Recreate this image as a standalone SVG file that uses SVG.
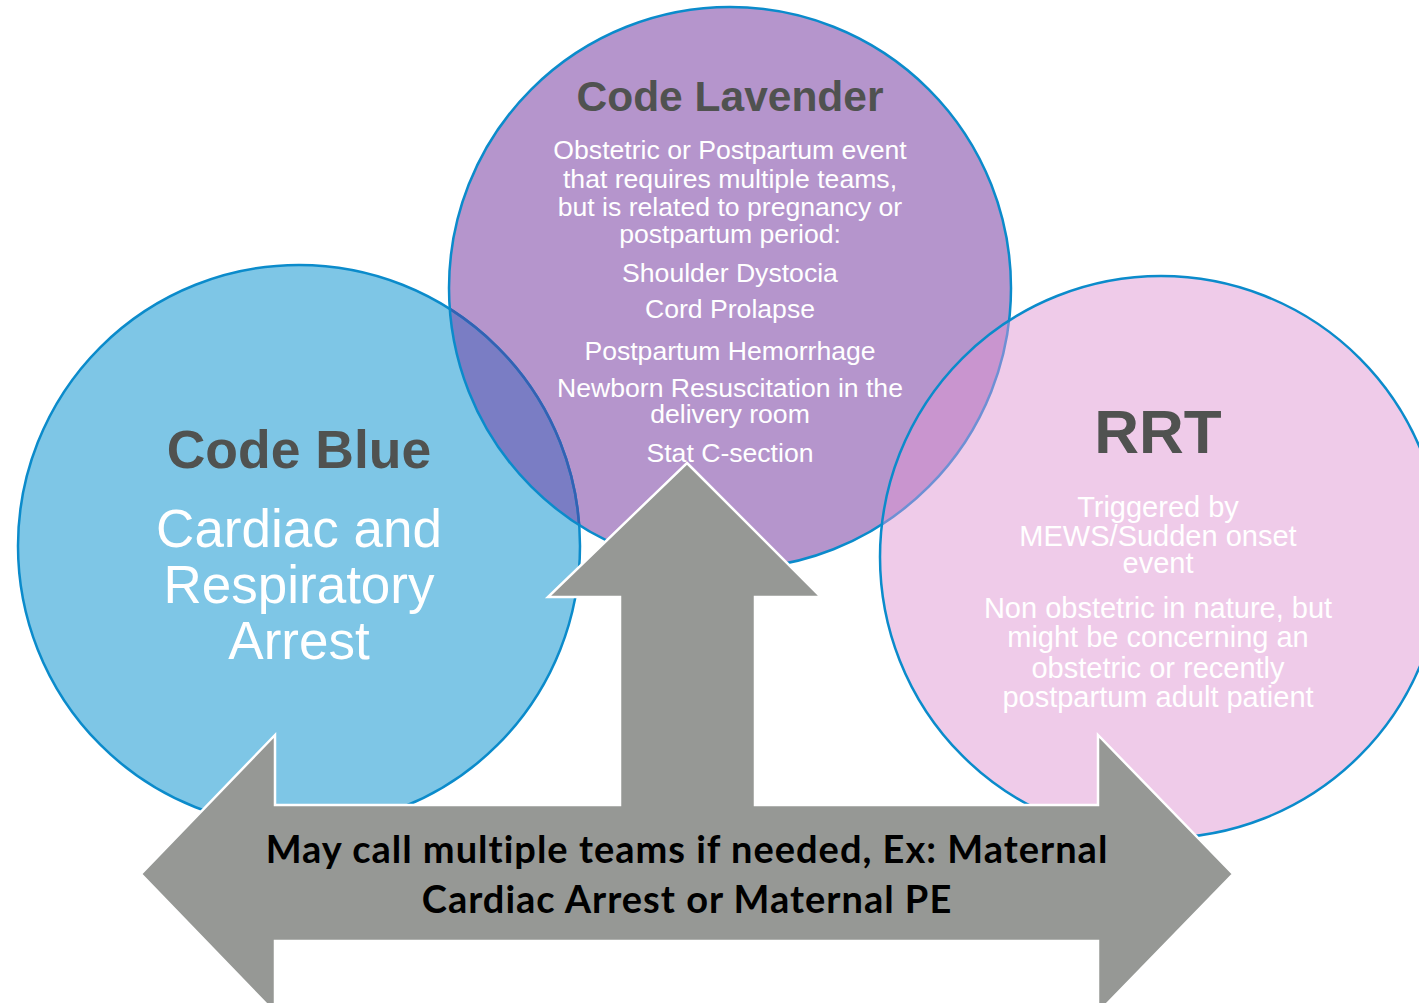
<svg xmlns="http://www.w3.org/2000/svg" width="1419" height="1003" viewBox="0 0 1419 1003">
<defs>
<clipPath id="clipBlue"><circle cx="299" cy="546" r="281"/></clipPath>
<clipPath id="clipLav"><circle cx="730" cy="288" r="281"/></clipPath>
<clipPath id="clipRRT"><circle cx="1161" cy="557" r="281"/></clipPath>
<style>
.edge{fill:none;stroke:#0B8BCB;stroke-width:2.5}
.title{font-family:"Liberation Sans",Arial,sans-serif;font-weight:bold;fill:#505250;text-anchor:middle}
.body{font-family:"Liberation Sans",Arial,sans-serif;fill:#FFFFFF;text-anchor:middle}
.arrowtxt{font-family:Lato,"Open Sans",sans-serif;font-weight:bold;fill:#000000;text-anchor:middle;letter-spacing:1px}
</style>
</defs>
<rect width="1419" height="1003" fill="#FFFFFF"/>
<g id="node-code-blue">
<circle cx="299" cy="546" r="281" fill="#7EC6E6"/>
</g>
<g id="node-code-lavender">
<circle cx="730" cy="288" r="281" fill="#B595CC"/>
<circle cx="730" cy="288" r="281" fill="#7A7DC4" clip-path="url(#clipBlue)"/>
<circle cx="299" cy="546" r="281" fill="none" stroke="#0B8BCB" stroke-width="2.5"/>
<circle cx="299" cy="546" r="281" fill="none" stroke="#3461B3" stroke-width="2.5" clip-path="url(#clipLav)"/>
<circle cx="730" cy="288" r="281" class="edge"/>
</g>
<g id="node-rrt">
<circle cx="1161" cy="557" r="281" fill="#EFCBE9"/>
<circle cx="1161" cy="557" r="281" fill="#C995CF" clip-path="url(#clipLav)"/>
<circle cx="730" cy="288" r="281" fill="none" stroke="#6E90D4" stroke-width="2.5" clip-path="url(#clipRRT)"/>
<circle cx="1161" cy="557" r="281" class="edge"/>
</g>
<g id="connectors">
<path d="M687,463 L821,597 L755,597 L755,805 L1098,805 L1098,735 L1233,874 L1098,1013 L1098,941 L275,941 L275,1013 L141,874 L275,735 L275,805 L620,805 L620,597 L548,597 Z" fill="#969895" stroke="#FFFFFF" stroke-width="2.5" stroke-linejoin="miter"/>
</g>
<g id="text-code-blue">
<text class="title" x="299" y="468" font-size="53.5">Code Blue</text>
<text class="body" x="299" y="547" font-size="53">Cardiac and</text>
<text class="body" x="299" y="603" font-size="53">Respiratory</text>
<text class="body" x="299" y="659" font-size="53">Arrest</text>
</g>
<g id="text-code-lavender">
<text class="title" x="730" y="111" font-size="42.5">Code Lavender</text>
<text class="body" x="730" y="159" font-size="26.6">Obstetric or Postpartum event</text>
<text class="body" x="730" y="188" font-size="26.6">that requires multiple teams,</text>
<text class="body" x="730" y="216" font-size="26.6">but is related to pregnancy or</text>
<text class="body" x="730" y="243" font-size="26.6">postpartum period:</text>
<text class="body" x="730" y="282" font-size="26.6">Shoulder Dystocia</text>
<text class="body" x="730" y="318" font-size="26.6">Cord Prolapse</text>
<text class="body" x="730" y="360" font-size="26.6">Postpartum Hemorrhage</text>
<text class="body" x="730" y="397" font-size="26.6">Newborn Resuscitation in the</text>
<text class="body" x="730" y="423" font-size="26.6">delivery room</text>
<text class="body" x="730" y="462" font-size="26.6">Stat C-section</text>
</g>
<g id="text-rrt">
<text class="title" x="1158" y="453" font-size="62">RRT</text>
<text class="body" x="1158" y="517" font-size="29">Triggered by</text>
<text class="body" x="1158" y="546" font-size="29">MEWS/Sudden onset</text>
<text class="body" x="1158" y="573" font-size="29">event</text>
<text class="body" x="1158" y="618" font-size="29">Non obstetric in nature, but</text>
<text class="body" x="1158" y="647" font-size="29">might be concerning an</text>
<text class="body" x="1158" y="678" font-size="29">obstetric or recently</text>
<text class="body" x="1158" y="707" font-size="29">postpartum adult patient</text>
</g>
<g id="text-arrow">
<text class="arrowtxt" x="687" y="863" font-size="38">May call multiple teams if needed, Ex: Maternal</text>
<text class="arrowtxt" x="687" y="913" font-size="38">Cardiac Arrest or Maternal PE</text>
</g>
</svg>
